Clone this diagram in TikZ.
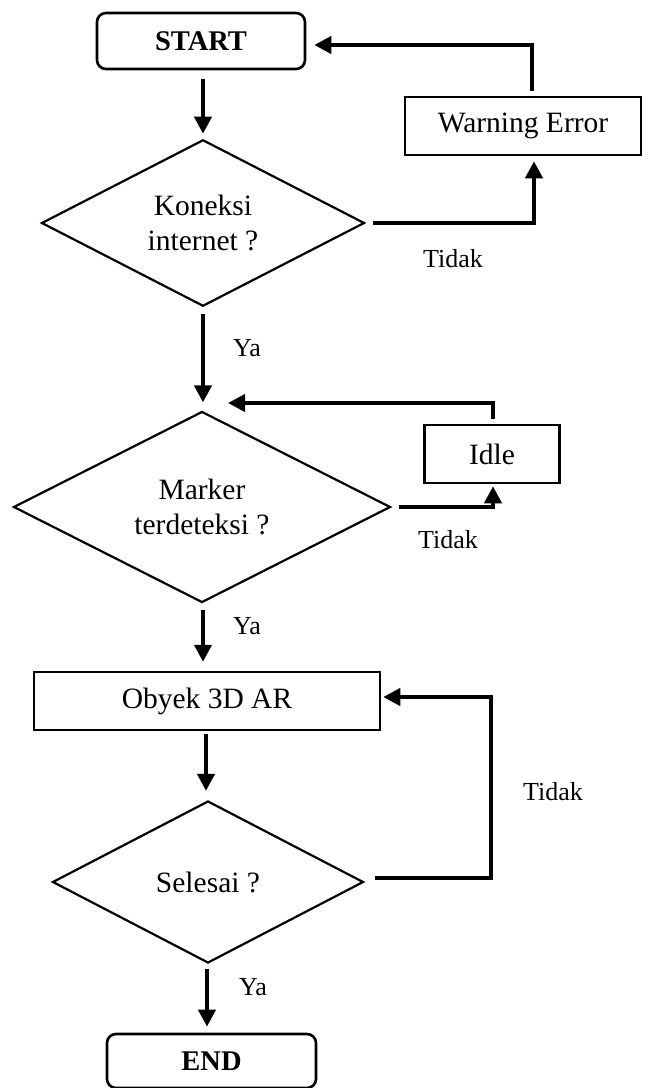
\documentclass[tikz,border=0pt]{standalone}
\usepackage{fontspec}
\setmainfont{Liberation Serif}
\usetikzlibrary{shapes.geometric,arrows.meta}
\begin{document}
\begin{tikzpicture}[x=1pt,y=-1pt,
  every node/.style={font=\fontsize{29.5}{35}\selectfont, inner sep=0pt, align=center},
  term/.style={draw, line width=2.6pt, rounded corners=9pt, minimum width=208pt, minimum height=56pt, font=\fontsize{28.5}{35}\selectfont\bfseries},
  proc/.style={draw, line width=2.5pt, minimum height=58pt},
  dec/.style={draw, diamond, line width=2.2pt},
  lbl/.style={font=\fontsize{26}{30}\selectfont},
  arr/.style={line width=4pt, -{Triangle[width=17pt,length=17pt]}}
]
\useasboundingbox (0,0) rectangle (652,1088);

\node[term] (start) at (201,41) {START};
\node[dec, minimum width=323pt, minimum height=161pt] (d1) at (203,223) {Koneksi\\internet ?};
\node[proc, minimum width=236pt] (warn) at (523,126) {Warning Error};
\node[dec, minimum width=377pt, minimum height=189pt] (d2) at (202,507) {Marker\\terdeteksi ?};
\node[proc, minimum width=135pt] (idle) at (492,454) {Idle};
\node[proc, minimum width=346pt] (obj) at (207,701) {Obyek 3D AR};
\node[dec, minimum width=311pt, minimum height=162pt] (d3) at (208,882) {Selesai ?};
\node[term, minimum width=209pt, minimum height=54pt] (end) at (211.5,1061) {END};

\node[lbl] (t1) at (453,259) {Tidak};
\node[lbl] (t2) at (448,540) {Tidak};
\node[lbl] (t3) at (553,792) {Tidak};
\node[lbl] (y1) at (247,348) {Ya};
\node[lbl] (y2) at (247,626) {Ya};
\node[lbl] (y3) at (253,987) {Ya};

\coordinate (join2) at (228,403);

% main flow
\draw[arr, shorten <=9pt, shorten >=5pt] ([xshift=2pt]start.south) -- (d1.north);
\draw[arr, shorten <=7pt, shorten >=8pt] (d1.south) -- ([xshift=1pt]d2.north);
\draw[arr, shorten <=6pt, shorten >=9pt] ([xshift=1pt]d2.south) -- ([xshift=-4pt]obj.north);
\draw[arr, shorten <=3pt, shorten >=9pt] ([xshift=-1pt]obj.south) -- ([xshift=-2pt]d3.north);
\draw[arr, shorten <=5pt, shorten >=6pt] ([xshift=-1pt]d3.south) -- ([xshift=-4.5pt]end.north);

% Koneksi -> Warning -> START
\draw[arr, shorten <=7pt, shorten >=5pt] (d1.east) -| ([xshift=11pt]warn.south);
\draw[arr, shorten <=5pt, shorten >=8pt] ([xshift=9pt]warn.north) |- ([yshift=-4pt]start.east);

% Marker -> Idle -> back
\draw[arr, shorten <=7pt, shorten >=2pt] (d2.east) -| ([xshift=1pt]idle.south);
\draw[arr, shorten <=5pt] ([xshift=1pt]idle.north) |- (join2);

% Selesai -> Obyek
\draw[arr, shorten <=10pt] ([yshift=4pt]d3.east) -| ([xshift=110pt,yshift=4pt]obj.east) -- ([xshift=2pt,yshift=4pt]obj.east);
\end{tikzpicture}
\end{document}
